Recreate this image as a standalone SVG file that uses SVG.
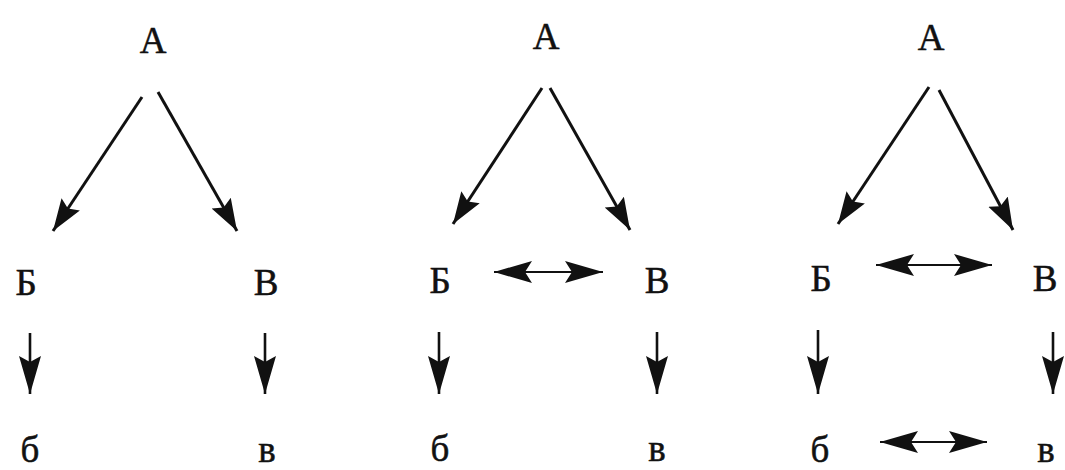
<svg xmlns="http://www.w3.org/2000/svg" width="1065" height="470" viewBox="0 0 1065 470">
<style>
text{font-family:"Liberation Serif","DejaVu Serif",serif;font-size:37px;fill:#111;stroke:#111;stroke-width:0.5;text-anchor:middle}
.d{stroke:#111;stroke-width:3;fill:none;marker-end:url(#h)}
.v{stroke:#111;stroke-width:2.6;fill:none;marker-end:url(#hv)}
.b{stroke:#111;stroke-width:2.2;fill:none;marker-start:url(#hb);marker-end:url(#hb)}
</style>
<defs>
<marker id="h" markerUnits="userSpaceOnUse" markerWidth="34" markerHeight="24" refX="32" refY="11" orient="auto" viewBox="0 0 34 24"><path d="M0,0 L32,11 L0,22 L5,11 Z" fill="#111"/></marker>
<marker id="hv" markerUnits="userSpaceOnUse" markerWidth="40" markerHeight="24" refX="38" refY="11" orient="auto" viewBox="0 0 40 24"><path d="M0,0 L38,11 L0,22 L6,11 Z" fill="#111"/></marker>
<marker id="hb" markerUnits="userSpaceOnUse" markerWidth="40" markerHeight="24" refX="38" refY="11" orient="auto-start-reverse" viewBox="0 0 40 24"><path d="M0,0 L38,11 L0,22 L7,11 Z" fill="#111"/></marker>
</defs>
<g id="p1A"><text x="153" y="53">А</text></g>
<g id="p1B"><text x="26" y="295">Б</text></g>
<g id="p1V"><text x="266" y="295">В</text></g>
<g id="p1b"><text x="30" y="462">б</text></g>
<g id="p1v"><text x="267" y="462">в</text></g>
<g id="p2A"><text x="546" y="49">А</text></g>
<g id="p2B"><text x="440" y="293">Б</text></g>
<g id="p2V"><text x="657" y="293">В</text></g>
<g id="p2b"><text x="440" y="461">б</text></g>
<g id="p2v"><text x="657" y="461">в</text></g>
<g id="p3A"><text x="931" y="50">А</text></g>
<g id="p3B"><text x="821" y="291">Б</text></g>
<g id="p3V"><text x="1045" y="291">В</text></g>
<g id="p3b"><text x="820" y="462">б</text></g>
<g id="p3v"><text x="1046" y="462">в</text></g>
<g id="connectors">
<line class="d" x1="142" y1="97" x2="53" y2="231"/>
<line class="d" x1="158" y1="92" x2="237" y2="231"/>
<line class="v" x1="30" y1="333" x2="30" y2="394"/>
<line class="v" x1="265" y1="333" x2="265" y2="394"/>
<line class="d" x1="542" y1="88" x2="453" y2="224"/>
<line class="d" x1="550" y1="88" x2="630" y2="230"/>
<line class="b" x1="494" y1="272" x2="603" y2="272"/>
<line class="v" x1="439" y1="332" x2="439" y2="394"/>
<line class="v" x1="657" y1="332" x2="657" y2="394"/>
<line class="d" x1="929" y1="87" x2="838" y2="224"/>
<line class="d" x1="939" y1="90" x2="1013" y2="230"/>
<line class="b" x1="876" y1="265" x2="992" y2="265"/>
<line class="v" x1="818" y1="330" x2="818" y2="394"/>
<line class="v" x1="1053" y1="332" x2="1053" y2="394"/>
<line class="b" x1="880" y1="442" x2="987" y2="442"/>
</g>
</svg>
